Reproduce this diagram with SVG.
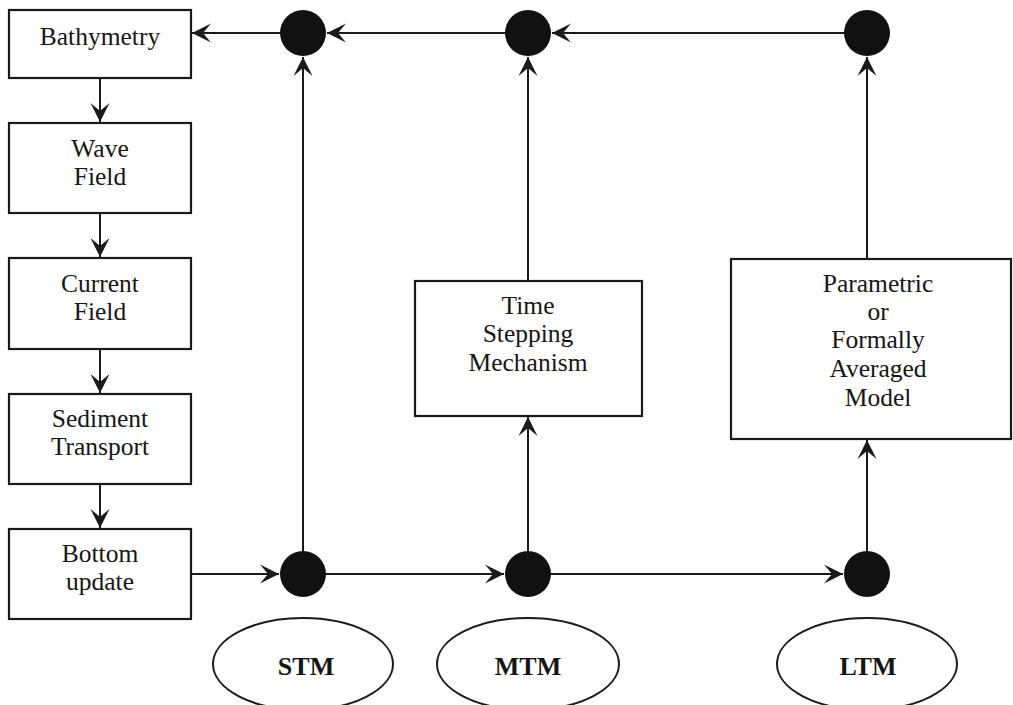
<svg xmlns="http://www.w3.org/2000/svg" width="1013" height="705" viewBox="0 0 1013 705">
  <defs>
    <marker id="arrow" markerUnits="userSpaceOnUse" markerWidth="22" markerHeight="22" viewBox="-20 -11 22 22" refX="0" refY="0" orient="auto">
      <path d="M0,0 L-19,-9.5 L-11,0 L-19,9.5 Z" fill="#1a1a1a"/>
    </marker>
    <style>
      .box { fill: #fff; stroke: #1a1a1a; stroke-width: 2.2; }
      .dot { fill: #111; }
      .scale { fill: #fff; stroke: #1a1a1a; stroke-width: 2; }
      .edge { fill: none; stroke: #1a1a1a; stroke-width: 2; marker-end: url(#arrow); }
      .lbl { font-family: "Liberation Serif", "Times New Roman", serif; font-size: 25.5px; fill: #151515; text-anchor: middle; }
      .tag { font-family: "Liberation Serif", "Times New Roman", serif; font-size: 26px; font-weight: bold; fill: #151515; text-anchor: middle; }
    </style>
  </defs>
  <rect width="1013" height="705" fill="#fff"/>

  <!-- connectors -->
  <g id="connectors">
    <!-- STM loop on the left column -->
    <line class="edge" x1="100" y1="78" x2="100" y2="122"/>
    <line class="edge" x1="100" y1="213" x2="100" y2="257"/>
    <line class="edge" x1="100" y1="349" x2="100" y2="393"/>
    <line class="edge" x1="100" y1="484" x2="100" y2="528"/>
    <line class="edge" x1="191" y1="574" x2="279" y2="574"/>
    <line class="edge" x1="303" y1="574" x2="303" y2="57"/>
    <line class="edge" x1="303" y1="33" x2="192" y2="33"/>
    <!-- bottom chain -->
    <line class="edge" x1="326" y1="574" x2="504" y2="574"/>
    <line class="edge" x1="551" y1="574" x2="843" y2="574"/>
    <!-- MTM branch -->
    <line class="edge" x1="528" y1="551" x2="528" y2="417"/>
    <line class="edge" x1="528" y1="281" x2="528" y2="57"/>
    <!-- LTM branch -->
    <line class="edge" x1="867" y1="551" x2="867" y2="440"/>
    <line class="edge" x1="867" y1="259" x2="867" y2="57"/>
    <!-- top chain -->
    <line class="edge" x1="844" y1="33" x2="552" y2="33"/>
    <line class="edge" x1="505" y1="33" x2="327" y2="33"/>
  </g>

  <!-- process boxes -->
  <g id="bathymetry">
    <rect class="box" x="9" y="10" width="182" height="68"/>
    <text class="lbl" x="100" y="45">Bathymetry</text>
  </g>
  <g id="wave-field">
    <rect class="box" x="9" y="123" width="182" height="90"/>
    <text class="lbl" x="100" y="157">Wave</text>
    <text class="lbl" x="100" y="185">Field</text>
  </g>
  <g id="current-field">
    <rect class="box" x="9" y="258" width="182" height="91"/>
    <text class="lbl" x="100" y="292">Current</text>
    <text class="lbl" x="100" y="320">Field</text>
  </g>
  <g id="sediment-transport">
    <rect class="box" x="9" y="394" width="182" height="90"/>
    <text class="lbl" x="100" y="427">Sediment</text>
    <text class="lbl" x="100" y="455">Transport</text>
  </g>
  <g id="bottom-update">
    <rect class="box" x="9" y="529" width="182" height="90"/>
    <text class="lbl" x="100" y="562">Bottom</text>
    <text class="lbl" x="100" y="590">update</text>
  </g>
  <g id="time-stepping">
    <rect class="box" x="415" y="281" width="227" height="135"/>
    <text class="lbl" x="528" y="314">Time</text>
    <text class="lbl" x="528" y="342">Stepping</text>
    <text class="lbl" x="528" y="371">Mechanism</text>
  </g>
  <g id="parametric-model">
    <rect class="box" x="731" y="259" width="280" height="180"/>
    <text class="lbl" x="878" y="292">Parametric</text>
    <text class="lbl" x="878" y="320">or</text>
    <text class="lbl" x="878" y="348">Formally</text>
    <text class="lbl" x="878" y="377">Averaged</text>
    <text class="lbl" x="878" y="406">Model</text>
  </g>

  <!-- junction dots -->
  <g id="stm-top"><circle class="dot" cx="303" cy="33" r="23"/></g>
  <g id="mtm-top"><circle class="dot" cx="528" cy="33" r="23"/></g>
  <g id="ltm-top"><circle class="dot" cx="867" cy="33" r="23"/></g>
  <g id="stm-bottom"><circle class="dot" cx="303" cy="574" r="23"/></g>
  <g id="mtm-bottom"><circle class="dot" cx="528" cy="574" r="23"/></g>
  <g id="ltm-bottom"><circle class="dot" cx="867" cy="574" r="23"/></g>

  <!-- time-scale tags -->
  <g id="stm">
    <ellipse class="scale" cx="303" cy="664" rx="90" ry="46"/>
    <text class="tag" x="306" y="675">STM</text>
  </g>
  <g id="mtm">
    <ellipse class="scale" cx="528" cy="664" rx="91" ry="46"/>
    <text class="tag" x="528" y="675">MTM</text>
  </g>
  <g id="ltm">
    <ellipse class="scale" cx="867" cy="664" rx="90" ry="46"/>
    <text class="tag" x="868" y="675">LTM</text>
  </g>
</svg>
